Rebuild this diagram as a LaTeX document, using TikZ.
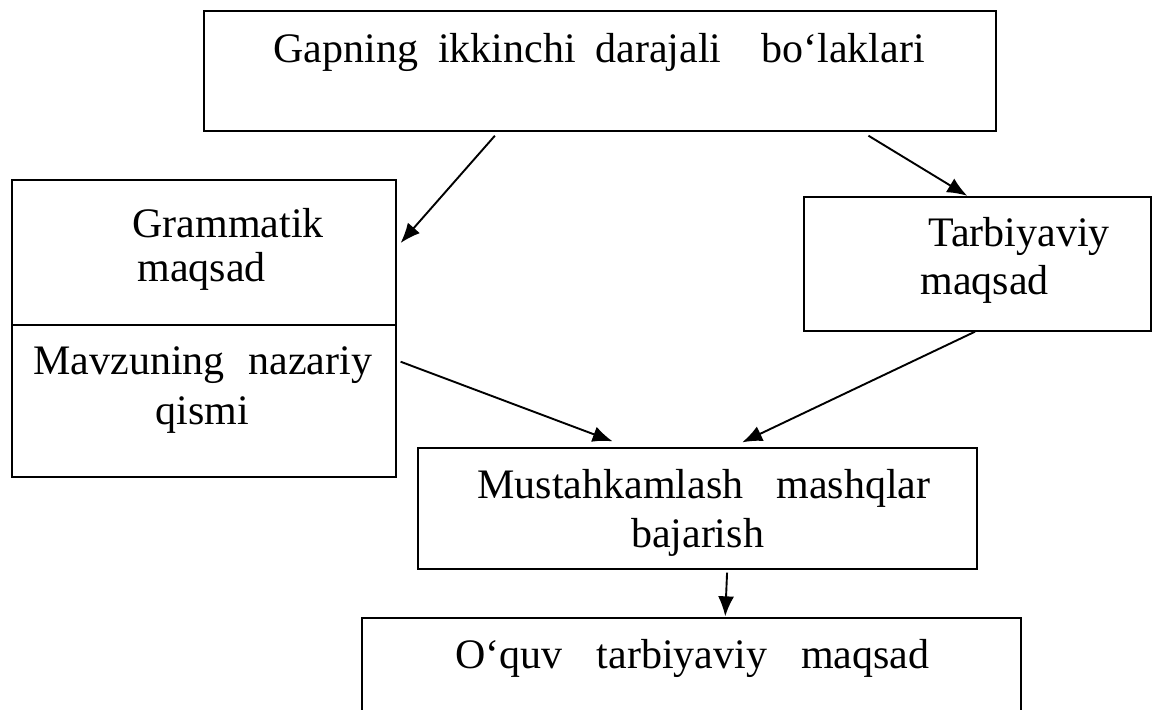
\documentclass[tikz,border=0pt]{standalone}
\usepackage{fontspec}
\setmainfont{Liberation Serif}
\usetikzlibrary{arrows.meta,calc}
\tikzstyle{box}=[draw,rectangle,line width=0.65pt,inner sep=0pt]
\tikzstyle{txt}=[inner sep=0pt,anchor=base west,font=\fontsize{21pt}{25pt}\selectfont]
\tikzstyle{conn}=[draw,line width=0.95pt,-{Latex[length=10pt,width=8pt]}]

\begin{document}
\begin{tikzpicture}[x=0.5pt,y=-0.5pt]
            \useasboundingbox (0,0) rectangle (1154,710);
            \clip (0,0) rectangle (1154,710);

            % boxes
            \node[box,minimum width=396pt,minimum height=60pt] (top) at (600,71) {};
            \node[box,minimum width=192pt,minimum height=72.5pt] (gram) at (204,252.5) {};
            \node[box,minimum width=192pt,minimum height=76pt] (mavzu) at (204,401) {};
            \node[box,minimum width=173.5pt,minimum height=67pt] (tarb) at (977.5,264) {};
            \node[box,minimum width=279.5pt,minimum height=60.5pt] (must) at (697.5,508.5) {};
            \node[box,minimum width=329.5pt,minimum height=61pt] (oquv) at (691.5,679) {};

            % texts
            \node[txt] (top1) at (273,63) {Gapning\hspace{10pt}ikkinchi\hspace{10pt}darajali\hspace{20pt}bo‘laklari};
            \node[txt] (gram1) at (132,238) {Grammatik};
            \node[txt] (gram2) at (137,282) {maqsad};
            \node[txt] (mavzu1) at (33,375) {Mavzuning\hspace{12pt}nazariy};
            \node[txt,anchor=base] (mavzu2) at (202.5,424) {qismi};
            \node[txt] (tarb1) at (928,247) {Tarbiyaviy};
            \node[txt] (tarb2) at (920,295) {maqsad};
            \node[txt] (must1) at (477,498) {Mustahkamlash\hspace{16.5pt}mashqlar};
            \node[txt,anchor=base] (must2) at (697.5,547) {bajarish};
            \node[txt] (oquv1) at (455,668) {O‘quv\hspace{17pt}tarbiyaviy\hspace{17pt}maqsad};

            % arrows
            \path[conn,shorten <=2.7pt,shorten >=3pt] ($(top.south west)!0.372!(top.south east)$) -- ($(gram.north east)!0.466!(gram.south east)$);
            \path[conn,shorten <=3.9pt,shorten >=0.5pt] ($(top.south west)!0.83!(top.south east)$) -- ($(tarb.north west)!0.473!(tarb.north east)$);
            \path[conn,shorten <=2.1pt,shorten >=8.5pt] ($(mavzu.north east)!0.234!(mavzu.south east)$) -- ($(must.north west)!0.377!(must.north east)$);
            \path[conn,shorten >=5.8pt] ($(tarb.south west)!0.493!(tarb.south east)$) -- ($(must.north west)!0.561!(must.north east)$);
            \path[conn,shorten <=1.5pt,shorten >=0.5pt] ($(must.south west)!0.553!(must.south east)$) -- ($(oquv.north west)!0.551!(oquv.north east)$);
        \end{tikzpicture}
\end{document}
